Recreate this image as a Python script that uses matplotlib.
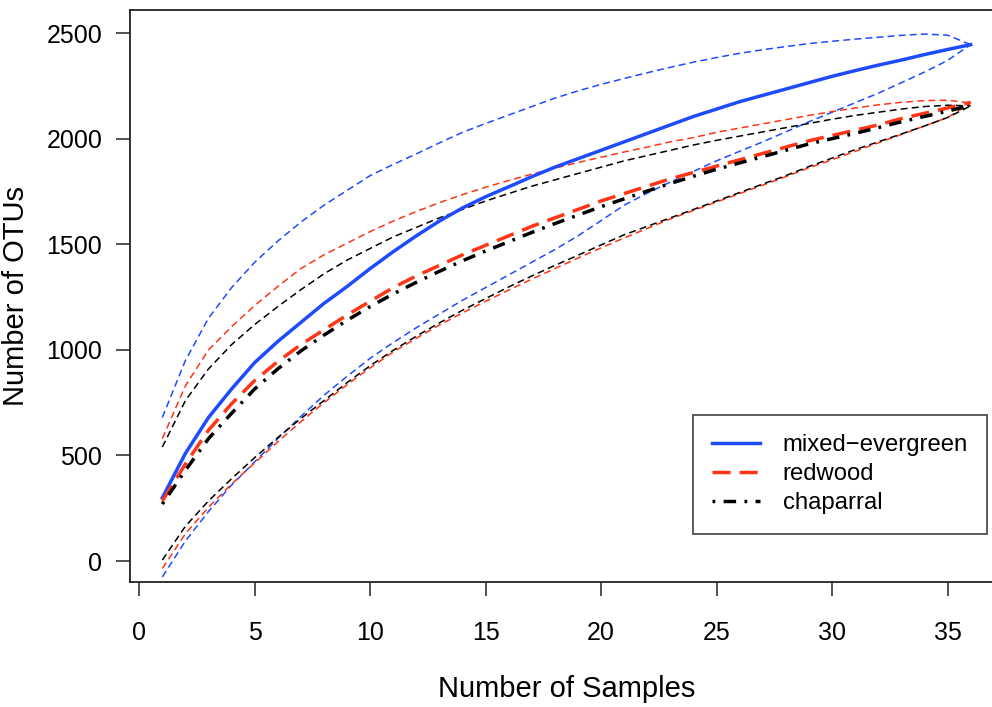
import numpy as np
import matplotlib
matplotlib.use("Agg")
import matplotlib.pyplot as plt
from matplotlib.lines import Line2D

plt.rcParams["font.family"] = ["Liberation Sans", "DejaVu Sans"]
plt.rcParams["lines.scale_dashes"] = False

samples = np.arange(1, 37)

mixed_mean = [300, 510, 680, 815, 940, 1040, 1130, 1220, 1300, 1385, 1465, 1540,
              1610, 1672, 1725, 1772, 1820, 1865, 1905, 1945, 1985, 2025, 2065, 2105,
              2140, 2175, 2205, 2235, 2265, 2295, 2322, 2348, 2372, 2398, 2422, 2445]
mixed_upper = [680, 950, 1150, 1295, 1415, 1515, 1605, 1685, 1755, 1825, 1878, 1928,
               1980, 2030, 2072, 2112, 2152, 2192, 2226, 2257, 2285, 2312, 2338, 2362,
               2384, 2404, 2421, 2436, 2450, 2461, 2471, 2480, 2489, 2495, 2490, 2445]
mixed_lower = [-75, 95, 235, 360, 470, 580, 685, 785, 875, 960, 1035, 1105,
               1170, 1235, 1295, 1355, 1415, 1475, 1540, 1612, 1685, 1742, 1795, 1845,
               1895, 1940, 1985, 2032, 2080, 2125, 2170, 2215, 2265, 2315, 2370, 2445]

redwood_mean = [285, 460, 620, 745, 855, 945, 1025, 1095, 1165, 1230, 1295, 1350,
                1400, 1450, 1495, 1540, 1585, 1625, 1665, 1705, 1740, 1775, 1810, 1840,
                1870, 1900, 1930, 1960, 1990, 2015, 2040, 2065, 2095, 2120, 2145, 2172]
redwood_upper = [580, 830, 1000, 1110, 1210, 1300, 1385, 1450, 1505, 1560, 1610, 1655,
                 1697, 1735, 1770, 1802, 1832, 1860, 1887, 1912, 1937, 1960, 1985, 2005,
                 2030, 2050, 2070, 2090, 2110, 2128, 2145, 2160, 2172, 2180, 2182, 2168]
redwood_lower = [-35, 130, 255, 365, 465, 565, 660, 750, 835, 915, 990, 1055,
                 1118, 1175, 1230, 1283, 1335, 1385, 1435, 1483, 1530, 1575, 1620, 1660,
                 1700, 1740, 1780, 1820, 1862, 1900, 1940, 1980, 2020, 2060, 2100, 2168]

chaparral_mean = [270, 430, 580, 700, 815, 910, 995, 1070, 1140, 1205, 1265, 1320,
                  1372, 1422, 1468, 1512, 1556, 1598, 1638, 1678, 1715, 1752, 1788, 1822,
                  1855, 1885, 1915, 1945, 1975, 2000, 2025, 2052, 2080, 2105, 2130, 2158]
chaparral_upper = [540, 760, 910, 1025, 1120, 1205, 1285, 1360, 1425, 1480, 1535, 1580,
                   1625, 1665, 1705, 1740, 1775, 1805, 1835, 1865, 1895, 1920, 1945, 1970,
                   1992, 2012, 2032, 2052, 2072, 2092, 2110, 2125, 2140, 2152, 2158, 2155]
chaparral_lower = [5, 165, 285, 390, 490, 585, 675, 760, 845, 925, 998, 1065,
                   1128, 1188, 1243, 1298, 1350, 1400, 1448, 1497, 1545, 1585, 1625, 1665,
                   1705, 1745, 1785, 1825, 1868, 1908, 1948, 1985, 2022, 2060, 2100, 2155]

labels = ["mixed\u2212evergreen", "redwood", "chaparral"]

BLUE = "#1f4bff"
RED = "#ff3515"
BLACK = "#000000"

band_dash = (5, 3)
mean_styles = [
    dict(color=BLUE, lw=2.5, linestyle="-"),
    dict(color=RED, lw=2.5, dashes=(13, 6.5)),
    dict(color=BLACK, lw=2.5, dashes=(2, 6, 9, 6)),
]

fig = plt.figure(figsize=(9.92, 7.07), dpi=100)
# right edge of the box falls outside the picture, as in the original
ax = fig.add_axes([130 / 992, 1 - 582 / 707, (1003 - 130) / 992, (582 - 10) / 707])

bands = [(mixed_lower, mixed_upper, BLUE),
         (redwood_lower, redwood_upper, RED),
         (chaparral_lower, chaparral_upper, BLACK)]
for lower, upper, col in bands:
    ax.plot(samples, upper, color=col, lw=1.1, dashes=band_dash)
    ax.plot(samples, lower, color=col, lw=1.1, dashes=band_dash)

means = [mixed_mean, redwood_mean, chaparral_mean]
for vals, style in zip(means, mean_styles):
    ax.plot(samples, vals, **style)

ax.set_xlim(-0.4, 37.4)
ax.set_ylim(-99, 2609)
ax.set_xticks(range(0, 40, 5))
ax.set_yticks(range(0, 3000, 500))

for s in ax.spines.values():
    s.set_linewidth(1.3)
    s.set_color("#222222")
ax.tick_params(direction="out", length=10, width=1.1, labelsize=18, colors="#222222",
               labelcolor="black")
ax.tick_params(axis="x", pad=18)
ax.tick_params(axis="y", pad=10)

ax.set_xlabel("Number of Samples", fontsize=21, labelpad=22)
ax.set_ylabel("Number of OTUs", fontsize=21, labelpad=12)

handles = [Line2D([], [], **st) for st in mean_styles]
leg = ax.legend(handles, labels, loc="upper right",
                bbox_to_anchor=(987 / 992, 1 - 415 / 707), bbox_transform=fig.transFigure,
                fontsize=17.2, frameon=True, fancybox=False, borderaxespad=0,
                borderpad=0.8, handlelength=2.0, handletextpad=0.95, labelspacing=0.3)
leg.get_frame().set_edgecolor("#222222")
leg.get_frame().set_linewidth(1.3)

fig.savefig("out.png", dpi=100)
